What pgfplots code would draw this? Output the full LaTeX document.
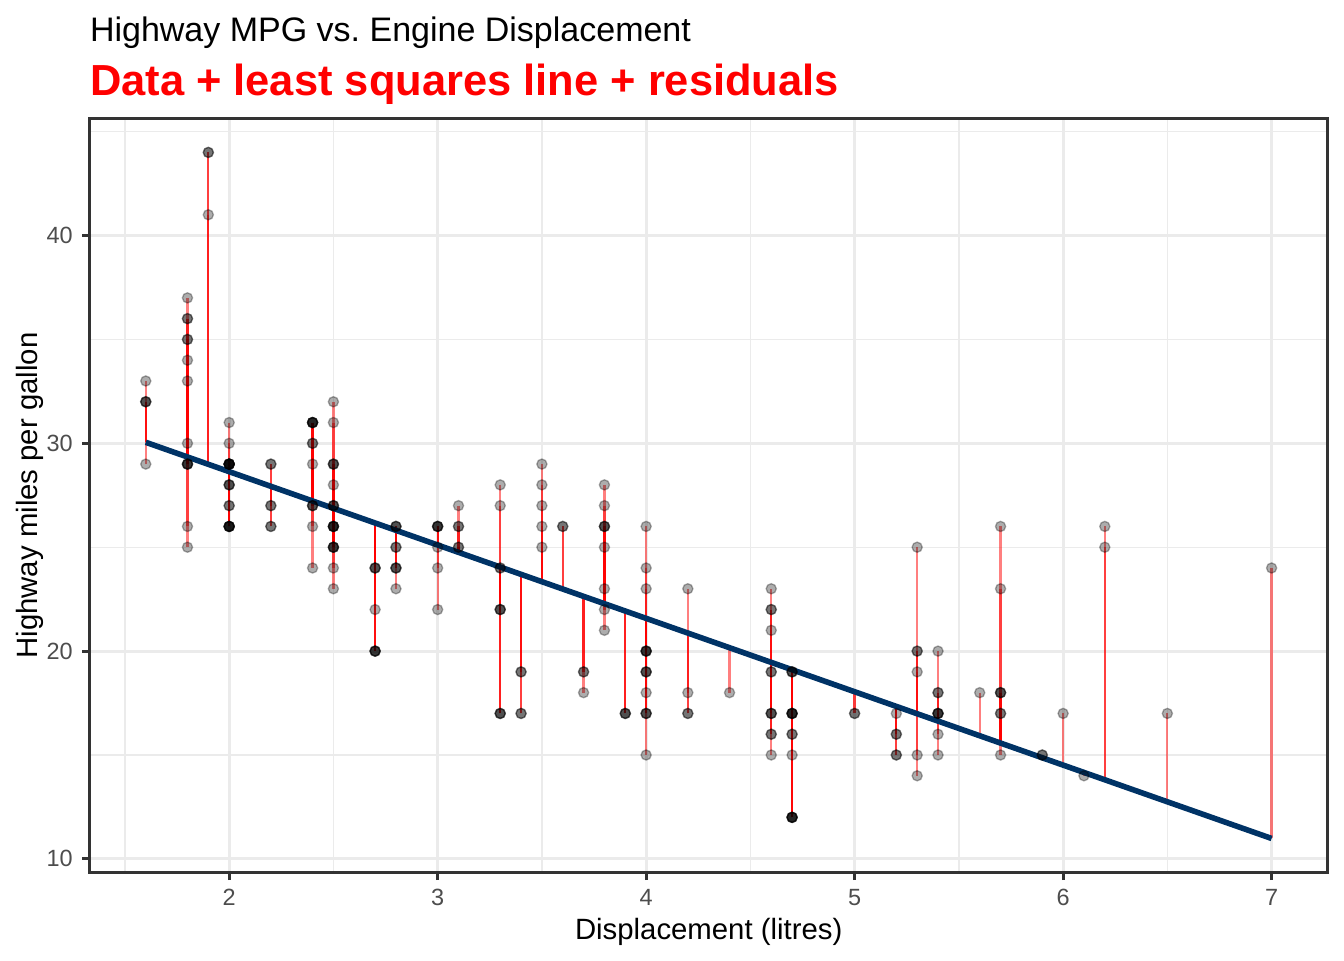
\documentclass[border=0pt]{standalone}
\usepackage{fontspec}
\setmainfont{Liberation Sans}
\usepackage{pgfplots}
\usepackage{pgfplotstable}
\pgfplotsset{compat=1.18}
\definecolor{fitblue}{RGB}{0,51,102}
\definecolor{gridgrey}{RGB}{235,235,235}
\definecolor{grey20}{RGB}{51,51,51}
\definecolor{grey30}{RGB}{77,77,77}
\pgfplotstableread[row sep=\\]{
x y f\\
1.6 33 30.049\\ 1.6 32 30.049\\ 1.6 32 30.049\\ 1.6 32 30.049\\ 1.6 29 30.049\\
1.8 37 29.342\\ 1.8 36 29.342\\ 1.8 36 29.342\\ 1.8 35 29.342\\ 1.8 35 29.342\\ 1.8 34 29.342\\ 1.8 33 29.342\\ 1.8 30 29.342\\
1.8 29 29.342\\ 1.8 29 29.342\\ 1.8 29 29.342\\ 1.8 29 29.342\\ 1.8 26 29.342\\ 1.8 25 29.342\\
1.9 44 28.989\\ 1.9 44 28.989\\ 1.9 41 28.989\\
2.0 31 28.636\\ 2.0 30 28.636\\ 2.0 29 28.636\\ 2.0 29 28.636\\ 2.0 29 28.636\\ 2.0 29 28.636\\ 2.0 29 28.636\\ 2.0 29 28.636\\ 2.0 29 28.636\\ 2.0 29 28.636\\
2.0 28 28.636\\ 2.0 28 28.636\\ 2.0 28 28.636\\ 2.0 27 28.636\\ 2.0 27 28.636\\
2.0 26 28.636\\ 2.0 26 28.636\\ 2.0 26 28.636\\ 2.0 26 28.636\\ 2.0 26 28.636\\ 2.0 26 28.636\\
2.2 29 27.930\\ 2.2 29 27.930\\ 2.2 27 27.930\\ 2.2 27 27.930\\ 2.2 26 27.930\\ 2.2 26 27.930\\
2.4 31 27.224\\ 2.4 31 27.224\\ 2.4 31 27.224\\ 2.4 31 27.224\\ 2.4 31 27.224\\ 2.4 30 27.224\\ 2.4 30 27.224\\ 2.4 29 27.224\\
2.4 27 27.224\\ 2.4 27 27.224\\ 2.4 27 27.224\\ 2.4 26 27.224\\ 2.4 24 27.224\\
2.5 32 26.871\\ 2.5 31 26.871\\ 2.5 29 26.871\\ 2.5 29 26.871\\ 2.5 29 26.871\\ 2.5 28 26.871\\ 2.5 27 26.871\\ 2.5 27 26.871\\ 2.5 27 26.871\\
2.5 26 26.871\\ 2.5 26 26.871\\ 2.5 26 26.871\\ 2.5 26 26.871\\ 2.5 26 26.871\\ 2.5 25 26.871\\ 2.5 25 26.871\\ 2.5 25 26.871\\ 2.5 25 26.871\\
2.5 24 26.871\\ 2.5 23 26.871\\
2.7 24 26.165\\ 2.7 24 26.165\\ 2.7 24 26.165\\ 2.7 22 26.165\\ 2.7 20 26.165\\ 2.7 20 26.165\\ 2.7 20 26.165\\ 2.7 20 26.165\\
2.8 26 25.812\\ 2.8 26 25.812\\ 2.8 26 25.812\\ 2.8 25 25.812\\ 2.8 25 25.812\\ 2.8 24 25.812\\ 2.8 24 25.812\\ 2.8 24 25.812\\ 2.8 23 25.812\\
3.0 26 25.106\\ 3.0 26 25.106\\ 3.0 26 25.106\\ 3.0 26 25.106\\ 3.0 25 25.106\\ 3.0 24 25.106\\ 3.0 22 25.106\\
3.1 27 24.753\\ 3.1 26 24.753\\ 3.1 26 24.753\\ 3.1 25 24.753\\ 3.1 25 24.753\\
3.3 28 24.047\\ 3.3 27 24.047\\ 3.3 24 24.047\\ 3.3 24 24.047\\ 3.3 22 24.047\\ 3.3 22 24.047\\ 3.3 22 24.047\\ 3.3 17 24.047\\ 3.3 17 24.047\\ 3.3 17 24.047\\
3.4 19 23.694\\ 3.4 19 23.694\\ 3.4 17 23.694\\ 3.4 17 23.694\\
3.5 29 23.341\\ 3.5 28 23.341\\ 3.5 27 23.341\\ 3.5 26 23.341\\ 3.5 25 23.341\\
3.6 26 22.988\\ 3.6 26 22.988\\
3.7 19 22.635\\ 3.7 19 22.635\\ 3.7 18 22.635\\
3.8 28 22.281\\ 3.8 27 22.281\\ 3.8 26 22.281\\ 3.8 26 22.281\\ 3.8 26 22.281\\ 3.8 25 22.281\\ 3.8 23 22.281\\ 3.8 22 22.281\\ 3.8 21 22.281\\
3.9 17 21.928\\ 3.9 17 21.928\\ 3.9 17 21.928\\
4.0 26 21.575\\ 4.0 24 21.575\\ 4.0 23 21.575\\ 4.0 20 21.575\\ 4.0 20 21.575\\ 4.0 20 21.575\\ 4.0 20 21.575\\ 4.0 19 21.575\\ 4.0 19 21.575\\ 4.0 19 21.575\\
4.0 18 21.575\\ 4.0 17 21.575\\ 4.0 17 21.575\\ 4.0 17 21.575\\ 4.0 15 21.575\\
4.2 23 20.869\\ 4.2 18 20.869\\ 4.2 17 20.869\\ 4.2 17 20.869\\
4.4 18 20.163\\
4.6 23 19.457\\ 4.6 22 19.457\\ 4.6 22 19.457\\ 4.6 21 19.457\\ 4.6 19 19.457\\ 4.6 19 19.457\\ 4.6 17 19.457\\ 4.6 17 19.457\\ 4.6 17 19.457\\
4.6 16 19.457\\ 4.6 16 19.457\\ 4.6 15 19.457\\
4.7 19 19.104\\ 4.7 19 19.104\\ 4.7 19 19.104\\ 4.7 17 19.104\\ 4.7 17 19.104\\ 4.7 17 19.104\\ 4.7 17 19.104\\ 4.7 17 19.104\\
4.7 16 19.104\\ 4.7 16 19.104\\ 4.7 15 19.104\\ 4.7 12 19.104\\ 4.7 12 19.104\\ 4.7 12 19.104\\ 4.7 12 19.104\\ 4.7 12 19.104\\
5.0 17 18.045\\ 5.0 17 18.045\\
5.2 17 17.339\\ 5.2 16 17.339\\ 5.2 16 17.339\\ 5.2 15 17.339\\ 5.2 15 17.339\\
5.3 25 16.986\\ 5.3 20 16.986\\ 5.3 20 16.986\\ 5.3 19 16.986\\ 5.3 15 16.986\\ 5.3 14 16.986\\
5.4 20 16.633\\ 5.4 18 16.633\\ 5.4 18 16.633\\ 5.4 17 16.633\\ 5.4 17 16.633\\ 5.4 17 16.633\\ 5.4 17 16.633\\ 5.4 16 16.633\\ 5.4 15 16.633\\
5.6 18 15.926\\
5.7 26 15.573\\ 5.7 23 15.573\\ 5.7 18 15.573\\ 5.7 18 15.573\\ 5.7 18 15.573\\ 5.7 17 15.573\\ 5.7 17 15.573\\ 5.7 15 15.573\\
5.9 15 14.867\\ 5.9 15 14.867\\
6.0 17 14.514\\
6.1 14 14.161\\
6.2 26 13.808\\ 6.2 25 13.808\\
6.5 17 12.749\\
7.0 24 10.983\\
}\mpg

\begin{document}
\frenchspacing
\begin{tikzpicture}
\useasboundingbox (-33.56pt,-32.7pt) rectangle (470.44pt,327.3pt);
\begin{axis}[
  at={(0,0)}, anchor=south west,
  scale only axis, width=464.4pt, height=283pt,
  xmin=1.33, xmax=7.27, ymin=9.33, ymax=45.65,
  xtick={2,3,4,5,6,7}, ytick={10,20,30,40},
  minor xtick={1.5,2.5,3.5,4.5,5.5,6.5}, minor ytick={15,25,35,45},
  grid=both,
  major grid style={gridgrey, line width=1.07pt},
  minor grid style={gridgrey, line width=0.53pt},
  axis line style={grey20, line width=1.07pt},
  tick pos=left,
  tick align=outside, major tick length=2.75pt, minor tick length=0pt,
  tick style={grey20, line width=1.07pt},
  ticklabel style={font=\fontsize{8.8}{10}\selectfont, text=grey30},
  /pgf/number format/assume math mode=true,
  xlabel={Displacement (litres)}, ylabel={Highway miles per gallon},
  label style={font=\fontsize{11}{13}\selectfont},
  xlabel style={at={(axis description cs:0.5,-0.0887)}, anchor=base, inner sep=0pt},
  ylabel style={at={(axis description cs:-0.042,0.5)}, anchor=base, rotate=0, inner sep=0pt},
]
\addplot[only marks, mark=*, mark size=1.9pt,
  mark options={fill=black, draw=black, fill opacity=0.32, draw opacity=0.32, line width=0.5pt}]
  table[x=x, y=y]{\mpg};
\addplot[red, opacity=0.5, line width=0.85pt, -,
  quiver={u=0, v=\thisrow{f}-\thisrow{y}}]
  table[x=x, y=y]{\mpg};
\addplot[fitblue, line width=2.1pt] coordinates {(1.6,30.049) (7,10.983)};
\end{axis}
\node[anchor=base west, inner sep=0pt, font=\fontsize{12.75}{15}\selectfont] at (0,311.6pt) {Highway MPG vs.\ Engine Displacement};
\node[anchor=base west, inner sep=0pt, text=red, font=\bfseries\fontsize{16.3}{19}\selectfont] at (0,291.6pt) {Data + least squares line + residuals};
\end{tikzpicture}
\end{document}
